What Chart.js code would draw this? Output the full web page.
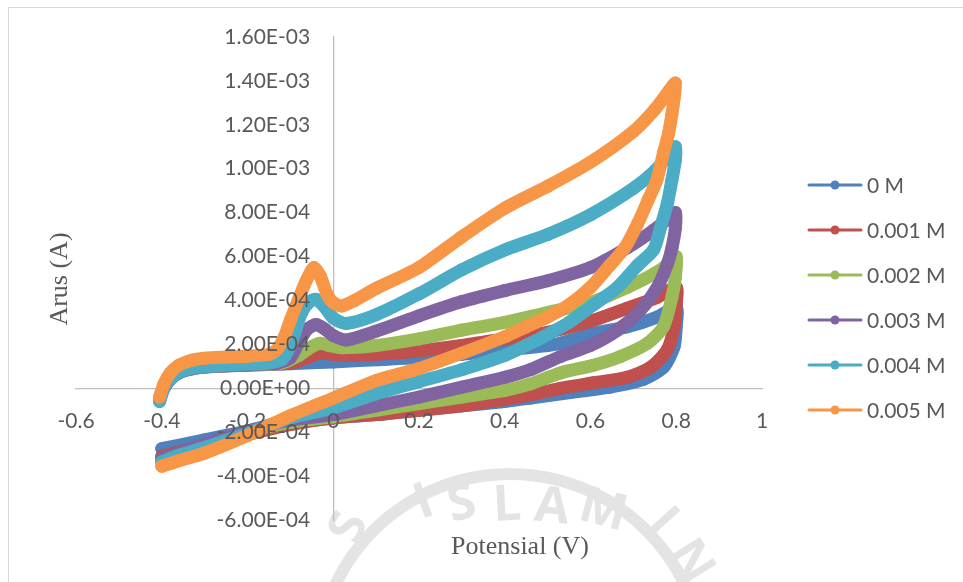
<!DOCTYPE html>
<html>
<head>
<meta charset="utf-8">
<script src="https://cdn.jsdelivr.net/npm/chart.js@4.4.1/dist/chart.umd.min.js"></script>
<style>
  html, body { margin: 0; padding: 0; background: #ffffff; }
  #wrap { width: 963px; height: 582px; position: relative; }
</style>
</head>
<body>
<div id="wrap"><canvas id="cvChart" width="963" height="582"></canvas></div>
<script>
// ---------------- DATA ----------------
const seriesNames = ["0 M", "0.001 M", "0.002 M", "0.003 M", "0.004 M", "0.005 M"];
const seriesColors = ["#4F81BD", "#C0504D", "#9BBB59", "#8064A2", "#4BACC6", "#F79646"];

const xTicks = [-0.6, -0.4, -0.2, 0, 0.2, 0.4, 0.6, 0.8, 1];
const yTicks = [-6e-4, -4e-4, -2e-4, 0, 2e-4, 4e-4, 6e-4, 8e-4, 1e-3, 1.2e-3, 1.4e-3, 1.6e-3];

// 0 M
const volt0 = [-0.405, -0.395, -0.38, -0.36, -0.33, -0.3, -0.2, -0.1, 0, 0.1, 0.2, 0.3, 0.4, 0.5, 0.53, 0.607, 0.686, 0.756, 0.8,
    0.8, 0.795, 0.77, 0.723, 0.646, 0.57, 0.46, 0.4, 0.3, 0.2, 0.1, 0, -0.1, -0.2, -0.3, -0.4];
const amp0 = [-0.45e-4, 0, 0.4e-4, 0.7e-4, 0.88e-4, 0.97e-4, 1.05e-4, 1.12e-4, 1.2e-4, 1.3e-4, 1.4e-4, 1.55e-4, 1.75e-4, 1.95e-4, 2.05e-4, 2.5e-4, 2.8e-4, 3.25e-4, 3.7e-4,
    2.8e-4, 1.9e-4, 0.95e-4, 0.4e-4, 0.05e-4, -0.15e-4, -0.45e-4, -0.6e-4, -0.8e-4, -1.0e-4, -1.2e-4, -1.35e-4, -1.6e-4, -1.95e-4, -2.35e-4, -2.75e-4];

// 0.001 M
const volt1 = [-0.405, -0.395, -0.38, -0.36, -0.33, -0.3, -0.2, -0.1, -0.06, -0.03, 0, 0.05, 0.1, 0.2, 0.3, 0.4, 0.5, 0.607, 0.686, 0.756, 0.8,
    0.8, 0.795, 0.779, 0.74, 0.686, 0.607, 0.53, 0.46, 0.4, 0.3, 0.2, 0.1, 0, -0.1, -0.2, -0.3, -0.4];
const amp1 = [-0.5e-4, 0, 0.45e-4, 0.75e-4, 0.9e-4, 0.98e-4, 1.07e-4, 1.15e-4, 1.4e-4, 1.6e-4, 1.55e-4, 1.5e-4, 1.55e-4, 1.7e-4, 1.95e-4, 2.25e-4, 2.55e-4, 3.1e-4, 3.65e-4, 4.15e-4, 4.6e-4,
    3.85e-4, 2.8e-4, 1.75e-4, 0.95e-4, 0.5e-4, 0.25e-4, 0, -0.3e-4, -0.5e-4, -0.8e-4, -1.0e-4, -1.2e-4, -1.35e-4, -1.65e-4, -2.1e-4, -2.6e-4, -3.1e-4];

// 0.002 M
const volt2 = [-0.405, -0.395, -0.38, -0.36, -0.33, -0.3, -0.2, -0.12, -0.08, -0.05, -0.03, -0.01, 0.02, 0.1, 0.2, 0.3, 0.4, 0.5, 0.6, 0.686, 0.747, 0.785, 0.8,
    0.798, 0.79, 0.77, 0.733, 0.67, 0.607, 0.53, 0.46, 0.4, 0.3, 0.2, 0.1, 0, -0.1, -0.2, -0.3, -0.4];
const amp2 = [-0.5e-4, 0, 0.45e-4, 0.75e-4, 0.9e-4, 0.98e-4, 1.08e-4, 1.15e-4, 1.5e-4, 1.9e-4, 2.05e-4, 1.95e-4, 1.85e-4, 1.95e-4, 2.25e-4, 2.65e-4, 3.0e-4, 3.45e-4, 3.9e-4, 4.6e-4, 5.2e-4, 5.7e-4, 6.0e-4,
    5.05e-4, 4.15e-4, 2.8e-4, 2.05e-4, 1.45e-4, 1.05e-4, 0.7e-4, 0.2e-4, -0.1e-4, -0.4e-4, -0.7e-4, -1.0e-4, -1.3e-4, -1.55e-4, -2.0e-4, -2.6e-4, -3.25e-4];

// 0.003 M
const volt3 = [-0.405, -0.395, -0.38, -0.36, -0.33, -0.3, -0.2, -0.13, -0.1, -0.08, -0.06, -0.04, -0.02, 0, 0.03, 0.1, 0.2, 0.3, 0.4, 0.5, 0.6, 0.686, 0.747, 0.786, 0.798,
    0.798, 0.79, 0.78, 0.756, 0.716, 0.663, 0.6, 0.53, 0.46, 0.4, 0.3, 0.2, 0.1, 0, -0.1, -0.2, -0.3, -0.4];
const amp3 = [-0.55e-4, 0, 0.45e-4, 0.75e-4, 0.9e-4, 0.98e-4, 1.08e-4, 1.15e-4, 1.4e-4, 2.1e-4, 2.7e-4, 2.9e-4, 2.7e-4, 2.4e-4, 2.2e-4, 2.6e-4, 3.3e-4, 3.95e-4, 4.45e-4, 4.9e-4, 5.5e-4, 6.4e-4, 7.2e-4, 7.8e-4, 8.0e-4,
    7.3e-4, 6.4e-4, 5.7e-4, 4.6e-4, 3.55e-4, 2.65e-4, 1.95e-4, 1.45e-4, 0.85e-4, 0.5e-4, 0.05e-4, -0.4e-4, -0.8e-4, -1.2e-4, -1.45e-4, -1.95e-4, -2.55e-4, -3.2e-4];

// 0.004 M
const volt4 = [-0.405, -0.395, -0.38, -0.36, -0.33, -0.3, -0.2, -0.15, -0.12, -0.105, -0.09, -0.075, -0.055, -0.04, -0.02, 0, 0.03, 0.1, 0.2, 0.3, 0.4, 0.5, 0.6, 0.7, 0.75, 0.785, 0.798,
    0.798, 0.79, 0.779, 0.763, 0.747, 0.71, 0.663, 0.607, 0.55, 0.5, 0.45, 0.4, 0.3, 0.2, 0.1, 0, -0.1, -0.2, -0.3, -0.36, -0.4];
const amp4 = [-0.6e-4, 0, 0.45e-4, 0.75e-4, 0.92e-4, 1.0e-4, 1.1e-4, 1.15e-4, 1.3e-4, 1.75e-4, 2.5e-4, 3.4e-4, 3.95e-4, 4.05e-4, 3.7e-4, 3.2e-4, 2.95e-4, 3.35e-4, 4.3e-4, 5.4e-4, 6.3e-4, 7.0e-4, 7.9e-4, 9.1e-4, 9.9e-4, 1.07e-3, 1.10e-3,
    1.04e-3, 9.5e-4, 8.4e-4, 7.3e-4, 6.3e-4, 5.6e-4, 4.6e-4, 3.8e-4, 3.0e-4, 2.45e-4, 1.95e-4, 1.5e-4, 0.85e-4, 0.3e-4, -0.25e-4, -0.9e-4, -1.35e-4, -2.05e-4, -2.7e-4, -3.05e-4, -3.35e-4];

// 0.005 M
const volt5 = [-0.405, -0.395, -0.38, -0.36, -0.33, -0.3, -0.25, -0.2, -0.15, -0.13, -0.115, -0.1, -0.08, -0.063, -0.045, -0.03, -0.015, 0, 0.02, 0.05, 0.1, 0.2, 0.3, 0.4, 0.5, 0.6, 0.7, 0.75, 0.785, 0.798,
    0.795, 0.79, 0.782, 0.77, 0.755, 0.735, 0.71, 0.68, 0.645, 0.6, 0.55, 0.5, 0.45, 0.4, 0.3, 0.2, 0.1, 0, -0.1, -0.2, -0.3, -0.36, -0.4];
const amp5 = [-0.4e-4, 0.2e-4, 0.7e-4, 1.05e-4, 1.28e-4, 1.37e-4, 1.42e-4, 1.46e-4, 1.55e-4, 1.8e-4, 2.3e-4, 3.1e-4, 4.1e-4, 4.9e-4, 5.5e-4, 5.1e-4, 4.3e-4, 3.9e-4, 3.75e-4, 4.0e-4, 4.55e-4, 5.5e-4, 6.9e-4, 8.2e-4, 9.2e-4, 1.03e-3, 1.17e-3, 1.27e-3, 1.36e-3, 1.39e-3,
    1.32e-3, 1.25e-3, 1.16e-3, 1.07e-3, 9.5e-4, 8.6e-4, 7.5e-4, 6.4e-4, 5.6e-4, 4.6e-4, 3.8e-4, 3.25e-4, 2.8e-4, 2.35e-4, 1.6e-4, 0.9e-4, 0.35e-4, -0.45e-4, -1.25e-4, -2.15e-4, -2.95e-4, -3.3e-4, -3.55e-4];

const voltSets = [volt0, volt1, volt2, volt3, volt4, volt5];
const ampSets = [amp0, amp1, amp2, amp3, amp4, amp5];

// ---------------- HELPERS ----------------
const TEXT_GREY = "#595959";
const TICK_FONT = { family: "Lato", size: 21 };
const AXIS_GREY = "#bfbfbf";
const MARK_GREY = "#e4e4e4";

function sciLabel(v) {
    if (Math.abs(v) < 1e-12) return "0.00E+00";
    let [mant, exp] = v.toExponential(2).split("e");
    let e = parseInt(exp, 10);
    const sign = e < 0 ? "-" : "+";
    e = Math.abs(e);
    return mant + "E" + sign + (e < 10 ? "0" + e : "" + e);
}

// faint university seal that shows through the scan
function drawSeal(ctx) {
    ctx.save();
    ctx.strokeStyle = MARK_GREY;
    ctx.lineWidth = 12;
    ctx.beginPath();
    ctx.arc(510, 667, 193, Math.PI * 1.08, Math.PI * 1.92);
    ctx.stroke();
    ctx.fillStyle = MARK_GREY;
    ctx.font = "bold 50px 'Open Sans'";
    ctx.textAlign = "center";
    ctx.textBaseline = "middle";
    const letters = [
        ["S", 350, 528, -68], ["I", 424, 503, -20], ["S", 462, 505, -12],
        ["L", 507, 506, -3], ["A", 552, 508, 6], ["M", 603, 511, 15],
        ["I", 662, 522, 48], ["N", 690, 562, 58],
    ];
    letters.forEach(([ch, x, y, deg]) => {
        ctx.save();
        ctx.translate(x, y);
        ctx.rotate(deg * Math.PI / 180);
        ctx.fillText(ch, 0, 0);
        ctx.restore();
    });
    ctx.restore();
}

// frame, axis titles and legend, Excel style
const decorPlugin = {
    id: "decor",
    beforeDraw(chart) {
        const ctx = chart.ctx;
        drawSeal(ctx);
        ctx.save();
        ctx.strokeStyle = "#d9d9d9";
        ctx.lineWidth = 1;
        ctx.strokeRect(8.5, 7.5, 1000, 1000);
        ctx.restore();
    },
    afterDraw(chart) {
        const ctx = chart.ctx;
        ctx.save();
        // axis titles
        ctx.fillStyle = TEXT_GREY;
        ctx.font = "26px 'Liberation Serif'";
        ctx.textAlign = "center";
        ctx.textBaseline = "middle";
        ctx.fillText("Potensial (V)", 520, 547);
        ctx.translate(60, 279);
        ctx.rotate(-Math.PI / 2);
        ctx.fillText("Arus (A)", 0, 0);
        ctx.restore();

        // legend
        ctx.save();
        seriesNames.forEach((name, i) => {
            const y = 185 + 45 * i;
            ctx.strokeStyle = seriesColors[i];
            ctx.fillStyle = seriesColors[i];
            ctx.lineWidth = 3;
            ctx.lineCap = "round";
            ctx.beginPath();
            ctx.moveTo(809, y);
            ctx.lineTo(861, y);
            ctx.stroke();
            ctx.beginPath();
            ctx.arc(835, y, 4.5, 0, Math.PI * 2);
            ctx.fill();
            ctx.fillStyle = TEXT_GREY;
            ctx.font = "21px Lato";
            ctx.textAlign = "left";
            ctx.textBaseline = "middle";
            ctx.fillText(name, 867, y + 1);
        });
        ctx.restore();
    }
};

// ---------------- CHART ----------------
const datasets = seriesNames.map((name, i) => ({
    label: name,
    data: voltSets[i].map((x, k) => ({ x: x, y: ampSets[i][k] })),
    borderColor: seriesColors[i],
    backgroundColor: seriesColors[i],
    borderWidth: 13,
    borderJoinStyle: "round",
    borderCapStyle: "round",
    pointRadius: 6.5,
    pointBorderWidth: 0,
    tension: 0.25,
    showLine: true,
    order: seriesNames.length - i,   // later series on top, like Excel
}));

const yRange = {
    type: "linear",
    min: yTicks[0],
    max: yTicks[yTicks.length - 1],
    afterFit: (scale) => { scale.width = 0; },
    afterBuildTicks: (scale) => { scale.ticks = yTicks.map(v => ({ value: v })); },
    grid: { display: false, drawTicks: false },
};

const ctx = document.getElementById("cvChart");
const cvChart = new Chart(ctx, {
    type: "scatter",
    data: { datasets: datasets },
    plugins: [decorPlugin],
    options: {
        responsive: false,
        animation: false,
        devicePixelRatio: 1,
        layout: { padding: { left: 76, right: 201, top: 37, bottom: 62 } },
        plugins: {
            legend: { display: false },
            tooltip: { enabled: false },
        },
        scales: {
            x: {
                type: "linear",
                position: { y: 0 },
                min: xTicks[0],
                max: xTicks[xTicks.length - 1],
                afterFit: (scale) => { scale.height = 0; },
                afterBuildTicks: (scale) => { scale.ticks = xTicks.map(v => ({ value: v })); },
                grid: { display: false, drawTicks: false },
                border: { display: true, color: AXIS_GREY, width: 1.3, z: 0 },
                ticks: {
                    z: 1,
                    padding: 20,
                    color: TEXT_GREY,
                    font: TICK_FONT,
                    maxRotation: 0,
                    autoSkip: false,
                    callback: (v) => String(Math.round(v * 10) / 10),
                },
            },
            // axis line through x = 0
            y: {
                ...yRange,
                position: { x: 0 },
                border: { display: true, color: AXIS_GREY, width: 1.3, z: 0 },
                ticks: { display: false },
            },
            // tick labels, set a little left of the axis line
            yLabels: {
                ...yRange,
                position: { x: -0.054 },
                border: { display: false },
                ticks: {
                    z: 1,
                    color: TEXT_GREY,
                    font: TICK_FONT,
                    autoSkip: false,
                    callback: (v) => sciLabel(v),
                },
            },
        },
    },
});
</script>
</body>
</html>
